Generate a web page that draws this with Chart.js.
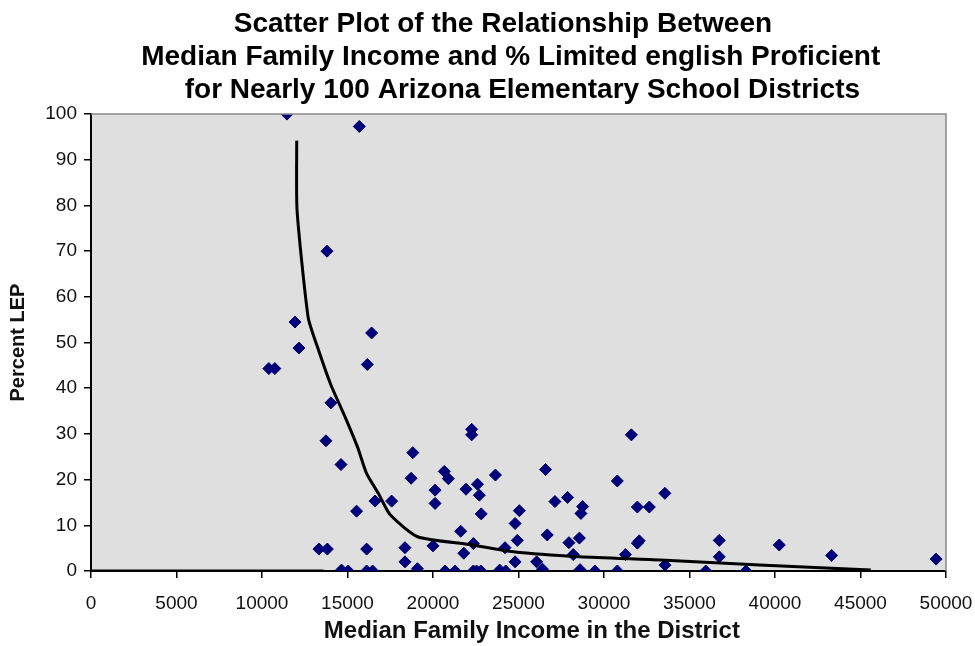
<!DOCTYPE html>
<html>
<head>
<meta charset="utf-8">
<script src="https://cdn.jsdelivr.net/npm/chart.js@4.4.1/dist/chart.umd.min.js"></script>
<style>
  html, body { margin: 0; padding: 0; background: #ffffff; }
  #wrap { width: 975px; height: 646px; position: relative; }
</style>
</head>
<body>
<div id="wrap"><canvas id="c" width="975" height="646"></canvas></div>
<script>
// ---- Data ----
const titleLines = [
  "Scatter Plot of the Relationship Between    ",
  "Median Family Income and % Limited english Proficient  ",
  " for Nearly 100 Arizona Elementary School Districts"
];
const xAxisTitle = "    Median Family Income in the District";
const yAxisTitle = "Percent LEP";

const medianIncome = [
  11460, 15690, 13800, 11930, 16410, 12160, 10400, 10750, 16160, 14030,
  13740, 22260, 22260, 31600, 18820, 14620, 26580, 20660, 23650, 18720,
  20900, 30780, 22600, 21930, 20120, 33560, 22710, 27870, 16610, 17580,
  27130, 20120, 28750, 31950, 32650, 15530, 25050, 22820, 28650, 24800,
  21620, 26680, 28560, 36740, 24930, 32060, 31950, 27950, 22360, 40250,
  20000, 18360, 24210, 13330, 13820, 16120, 21800, 31250, 28200, 43310,
  36740, 49420, 18360, 24800, 26060, 33570, 26400, 19090, 14650, 15040,
  16120, 16470, 20700, 21290, 22360, 22550, 22800, 23900, 24250, 28600,
  29470, 30780, 35950, 38300
];
const percentLEP = [
  100, 97.3, 70.0, 54.5, 52.1, 48.8, 44.3, 44.3, 45.2, 36.8,
  28.5, 31.0, 29.8, 29.8, 25.9, 23.3, 22.2, 21.8, 21.0, 20.3,
  20.2, 19.7, 19.0, 17.9, 17.7, 17.0, 16.6, 16.1, 15.3, 15.3,
  15.2, 14.8, 14.1, 14.0, 14.0, 13.1, 13.2, 12.5, 12.6, 10.4,
  8.7, 7.9, 7.2, 6.7, 6.7, 6.6, 6.1, 6.2, 6.0, 5.7,
  5.5, 5.1, 5.1, 4.8, 4.8, 4.8, 3.9, 3.6, 3.6, 3.4,
  3.1, 2.6, 2.0, 2.0, 2.0, 1.3, 0.4, 0.5, 0.2, 0,
  0, 0, 0, 0, 0, 0, 0, 0.2, 0, 0.3,
  0, 0, 0, 0
];
// trend line (Excel style curve)
const trendIncome = [12030, 12050, 12700, 13200, 14000, 14850, 15600, 16100, 16800, 17500, 19100, 22100, 24700, 28600, 33300, 39100, 45600];
const trendPercent = [94.2, 79.0, 55.5, 49.5, 41.0, 33.8, 27.0, 21.5, 17.0, 12.3, 7.5, 5.8, 4.2, 3.1, 2.4, 1.3, 0.2];
// heavy segment along the zero line
const zeroSegIncome = [0, 13600];
const zeroSegPercent = [0, 0];

const xMin = 0, xMax = 50000, xStep = 5000;
const yMin = 0, yMax = 100, yStep = 10;

// ---- build datasets ----
const scatterPts = medianIncome.map((v, i) => ({ x: v, y: percentLEP[i] }));
const trendPts = trendIncome.map((v, i) => ({ x: v, y: trendPercent[i] }));
const zeroPts = zeroSegIncome.map((v, i) => ({ x: v, y: zeroSegPercent[i] }));

const FONT = "'Liberation Sans', Arial, sans-serif";

const plotBg = {
  id: 'plotBg',
  beforeDraw(chart) {
    const { ctx, chartArea: a } = chart;
    ctx.save();
    ctx.fillStyle = '#dfdfdf';
    ctx.fillRect(a.left, a.top, a.right - a.left, a.bottom - a.top);
    ctx.restore();
  },
  afterDraw(chart) {
    const { ctx, chartArea: a } = chart;
    ctx.save();
    ctx.strokeStyle = '#8a8a8a';
    ctx.lineWidth = 1.5;
    ctx.beginPath();
    ctx.moveTo(a.left, a.top);
    ctx.lineTo(a.right, a.top);
    ctx.lineTo(a.right, a.bottom);
    ctx.stroke();
    ctx.restore();
  }
};

new Chart(document.getElementById('c'), {
  type: 'scatter',
  data: {
    datasets: [
      {
        label: 'Trend',
        type: 'line',
        data: trendPts,
        borderColor: '#000000',
        borderWidth: 3,
        pointRadius: 0,
        fill: false,
        tension: 0.2,
        order: 0
      },
      {
        label: 'Zero',
        type: 'line',
        data: zeroPts,
        borderColor: '#000000',
        borderWidth: 3,
        pointRadius: 0,
        fill: false,
        order: 0
      },
      {
        label: 'Districts',
        data: scatterPts,
        pointStyle: 'rectRot',
        pointRadius: 6,
        backgroundColor: '#00007a',
        borderColor: '#00006a',
        borderWidth: 1,
        order: 1
      }
    ]
  },
  options: {
    responsive: false,
    animation: false,
    devicePixelRatio: 1,
    layout: { padding: { left: 0, right: 29, top: 0, bottom: 0 } },
    plugins: {
      legend: { display: false },
      tooltip: { enabled: false },
      title: {
        display: true,
        fullSize: false,
        text: titleLines,
        color: '#000',
        font: { family: FONT, size: 28, weight: 'bold', lineHeight: 1.18 },
        padding: { top: 8, bottom: 7 }
      }
    },
    scales: {
      x: {
        type: 'linear',
        min: xMin, max: xMax,
        afterFit(s) { s.height = 75; s.paddingRight = 0; s.paddingLeft = 0; },
        ticks: { stepSize: xStep, color: '#111', font: { family: FONT, size: 19 }, padding: 14, maxRotation: 0, autoSkip: false,
                 callback: (v) => String(v) },
        grid: { display: true, drawOnChartArea: false, drawTicks: true, tickLength: 7, color: '#000', lineWidth: 1.5 },
        border: { display: true, color: '#000', width: 2 },
        title: { display: true, text: xAxisTitle, color: '#111', font: { family: FONT, size: 24, weight: 'bold' }, padding: { top: 0, bottom: 0 } }
      },
      y: {
        type: 'linear',
        min: yMin, max: yMax,
        afterFit(s) { s.width = 91; },
        ticks: { stepSize: yStep, color: '#111', font: { family: FONT, size: 19 }, padding: 7, callback: (v) => String(v) },
        grid: { display: true, drawOnChartArea: false, drawTicks: true, tickLength: 7, color: '#000', lineWidth: 1.5 },
        border: { display: true, color: '#000', width: 2 },
        title: { display: true, text: yAxisTitle, color: '#111', font: { family: FONT, size: 20, weight: 'bold' }, padding: { top: 6, bottom: 0 } }
      }
    }
  },
  plugins: [plotBg]
});
</script>
</body>
</html>
